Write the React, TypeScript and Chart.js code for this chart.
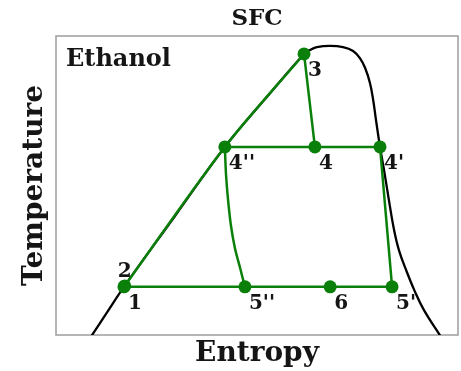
import { useEffect, useRef } from "react";
import { Chart, registerables } from "chart.js";

Chart.register(...registerables);

// Saturation dome of ethanol (normalized entropy / temperature units)
const domeEntropy = [
  8.0, 12.9, 16.9, 29.6, 42.0, 52.0, 61.7, 63.2, 64.9, 68.2, 71.4, 73.9, 75.6,
  76.9, 78.1, 78.9, 79.6, 80.6, 81.6, 82.8, 84.1, 85.3, 87.1, 89.1, 91.5, 95.8,
];
const domeTemperature = [
  -2.0, 8.0, 16.1, 39.8, 62.9, 78.9, 94.0, 95.3, 96.3, 96.7, 96.3, 95.0, 92.6,
  89.3, 84.3, 78.6, 71.9, 62.9, 55.2, 45.2, 35.1, 28.4, 21.7, 15.1, 8.4, -0.7,
];

// Cycle state points
const stateLabels = ["1", "2", "3", "4", "4'", "4''", "5''", "6", "5'"];
const stateEntropy = [16.9, 17.1, 61.7, 64.4, 80.6, 42.0, 47.0, 68.2, 83.6];
const stateTemperature = [16.1, 16.4, 94.0, 62.9, 62.9, 62.9, 16.1, 16.1, 16.1];

// Process paths of the cycle
const pumpHeatingEntropy = [16.9, 42.0, 61.7];
const pumpHeatingTemperature = [16.1, 62.9, 94.0];
const expansion34Entropy = [61.7, 64.4];
const expansion34Temperature = [94.0, 62.9];
const highLevelEntropy = [42.0, 64.4, 80.6];
const highLevelTemperature = [62.9, 62.9, 62.9];
const vapourExpansionEntropy = [80.6, 83.6];
const vapourExpansionTemperature = [62.9, 16.1];
const liquidExpansionEntropy = [42.0, 42.3, 42.8, 43.5, 44.5, 45.8, 47.0];
const liquidExpansionTemperature = [62.9, 53.5, 45.2, 36.8, 29.1, 22.4, 16.1];
const lowLevelEntropy = [16.9, 47.0, 68.2, 83.6];
const lowLevelTemperature = [16.1, 16.1, 16.1, 16.1];

const FLUID = "Ethanol";

const SERIF = "'DejaVu Serif', serif";
const TEXT = "#151515";
const GREEN = "#0a800a";

const pts = (xs: number[], ys: number[]) => xs.map((x, i) => ({ x, y: ys[i] }));

const greenPath = (xs: number[], ys: number[]) => ({
  data: pts(xs, ys),
  showLine: true,
  borderColor: GREEN,
  borderWidth: 2.5,
  pointRadius: 0,
  tension: 0.3,
  order: 2,
});

const POINTS_INDEX = 7;

const framePlugin = {
  id: "frame",
  beforeDatasetsDraw(chart: any) {
    const { ctx, chartArea: a } = chart;
    ctx.save();
    ctx.strokeStyle = "#a3a3a3";
    ctx.lineWidth = 1.6;
    ctx.strokeRect(a.left, a.top, a.right - a.left, a.bottom - a.top);
    ctx.restore();
  },
};

const labelPlugin = {
  id: "stateLabels",
  afterDatasetsDraw(chart: any) {
    const { ctx, chartArea: a } = chart;
    const meta = chart.getDatasetMeta(POINTS_INDEX);
    ctx.save();
    ctx.fillStyle = TEXT;
    ctx.textAlign = "left";
    ctx.textBaseline = "alphabetic";
    ctx.font = `bold 20px ${SERIF}`;
    meta.data.forEach((el: any, i: number) => {
      const above = stateLabels[i] === "2";
      const dx = above ? -7 : 4;
      const dy = above ? -9 : 22;
      ctx.fillText(stateLabels[i], el.x + dx, el.y + dy);
    });
    ctx.font = `bold 24px ${SERIF}`;
    ctx.fillText(FLUID, a.left + 10, a.top + 30);
    ctx.restore();
  },
};

export default function App() {
  const ref = useRef<HTMLCanvasElement | null>(null);

  useEffect(() => {
    if (!ref.current) return;
    const chart = new Chart(ref.current, {
      type: "scatter",
      data: {
        datasets: [
          {
            data: pts(domeEntropy, domeTemperature),
            showLine: true,
            borderColor: "#000",
            borderWidth: 2.3,
            pointRadius: 0,
            tension: 0.4,
            order: 3,
          },
          greenPath(pumpHeatingEntropy, pumpHeatingTemperature),
          greenPath(expansion34Entropy, expansion34Temperature),
          greenPath(highLevelEntropy, highLevelTemperature),
          greenPath(vapourExpansionEntropy, vapourExpansionTemperature),
          greenPath(liquidExpansionEntropy, liquidExpansionTemperature),
          greenPath(lowLevelEntropy, lowLevelTemperature),
          {
            data: pts(stateEntropy, stateTemperature),
            showLine: false,
            pointRadius: 6.5,
            pointBackgroundColor: GREEN,
            pointBorderColor: GREEN,
            pointBorderWidth: 0,
            order: 1,
          },
        ] as any,
      },
      options: {
        responsive: false,
        animation: false,
        events: [],
        layout: { autoPadding: false, padding: { right: 3 } },
        plugins: {
          legend: { display: false },
          tooltip: { enabled: false },
          title: {
            display: true,
            text: "SFC",
            fullSize: false,
            color: TEXT,
            font: { family: SERIF, size: 23, weight: "bold", lineHeight: 1.2 },
            padding: { top: 5, bottom: 3.4 },
          },
        },
        scales: {
          x: {
            type: "linear",
            min: 0,
            max: 100,
            ticks: { display: false },
            grid: { display: false, drawTicks: false },
            border: { display: false },
            title: {
              display: true,
              text: "Entropy",
              color: TEXT,
              font: { family: SERIF, size: 28, weight: "bold", lineHeight: 1.2 },
              padding: { top: 0, bottom: 0 },
            },
            afterFit: (s: any) => {
              s.height = 36;
            },
          },
          y: {
            type: "linear",
            min: 0,
            max: 100,
            ticks: { display: false },
            grid: { display: false, drawTicks: false },
            border: { display: false },
            title: {
              display: true,
              text: "Temperature",
              color: TEXT,
              font: { family: SERIF, size: 28, weight: "bold", lineHeight: 1.2 },
              padding: { top: 18, bottom: 0 },
            },
            afterFit: (s: any) => {
              s.width = 56;
            },
          },
        },
      } as any,
      plugins: [framePlugin, labelPlugin],
    });
    return () => chart.destroy();
  }, []);

  return (
    <div style={{ position: "absolute", left: 0, top: 0, width: 461, height: 371, background: "#fff" }}>
      <canvas ref={ref} width={461} height={371} />
    </div>
  );
}
